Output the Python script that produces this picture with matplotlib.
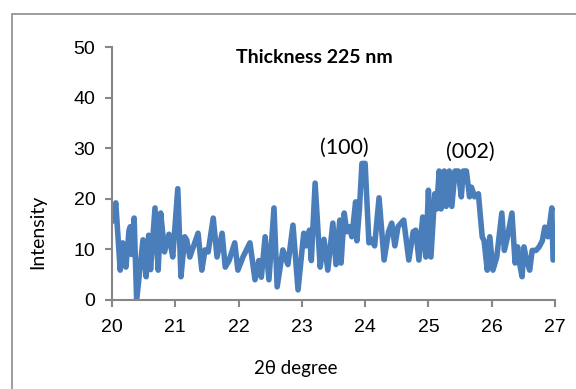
import matplotlib.pyplot as plt
from matplotlib.patches import Rectangle

# 2theta (deg) and intensity
two_theta = [20.00, 20.06, 20.13, 20.17, 20.22, 20.27, 20.29, 20.31, 20.35, 20.39,
             20.49, 20.54, 20.58, 20.61, 20.68, 20.73, 20.77, 20.83, 20.90, 20.96,
             21.04, 21.09, 21.15, 21.18, 21.23, 21.36, 21.42, 21.47, 21.52, 21.60,
             21.66, 21.74, 21.79, 21.85, 21.94, 21.99, 22.07, 22.18, 22.26, 22.32,
             22.36, 22.42, 22.48, 22.56, 22.61, 22.70, 22.78, 22.86, 22.94, 23.03,
             23.07, 23.12, 23.15, 23.21, 23.29, 23.35, 23.41, 23.49, 23.54, 23.60,
             23.62, 23.67, 23.71, 23.75, 23.79, 23.85, 23.87, 23.91, 23.95, 24.00,
             24.06, 24.10, 24.15, 24.22, 24.30, 24.37, 24.42, 24.47, 24.52, 24.61,
             24.69, 24.76, 24.80, 24.85, 24.91, 24.96, 25.00, 25.04, 25.10, 25.13,
             25.17, 25.20, 25.25, 25.28, 25.33, 25.37, 25.42, 25.47, 25.52, 25.55,
             25.60, 25.65, 25.68, 25.73, 25.79, 25.85, 25.88, 25.93, 25.97, 26.02,
             26.08, 26.16, 26.20, 26.25, 26.32, 26.37, 26.41, 26.44, 26.48, 26.51,
             26.55, 26.60, 26.64, 26.70, 26.75, 26.80, 26.84, 26.89, 26.95, 26.97]
intensity = [15.5, 19.2, 5.9, 11.3, 6.5, 13.8, 14.5, 9.0, 16.2, 0.0,
             11.9, 4.6, 12.8, 6.0, 18.2, 5.9, 17.2, 9.5, 13.0, 8.5,
             22.0, 4.6, 12.5, 11.9, 8.5, 13.2, 5.9, 9.9, 9.5, 16.2,
             8.5, 13.2, 6.5, 7.8, 11.3, 5.9, 8.5, 11.3, 4.0, 7.8,
             4.5, 12.5, 4.0, 18.2, 2.6, 9.9, 7.0, 14.8, 2.0, 13.2,
             10.7, 13.8, 7.8, 23.1, 6.5, 12.0, 5.9, 15.2, 7.0, 15.8,
             7.3, 17.2, 13.5, 14.5, 12.5, 19.4, 11.7, 18.0, 27.0, 27.0,
             11.3, 12.0, 10.7, 20.2, 7.9, 13.5, 15.2, 10.7, 14.5, 15.8,
             7.9, 13.5, 13.8, 7.9, 16.4, 8.5, 21.7, 8.5, 21.0, 18.0,
             25.5, 18.0, 25.5, 18.5, 25.5, 18.5, 25.5, 25.5, 20.4, 25.5,
             25.5, 20.4, 22.3, 20.4, 21.0, 12.5, 11.7, 5.9, 12.5, 5.9,
             8.5, 17.2, 9.8, 12.5, 17.2, 7.3, 10.5, 7.3, 4.6, 10.5,
             8.0, 5.9, 9.8, 9.8, 10.5, 11.7, 14.4, 12.5, 18.2, 7.9]
peak_labels = ['(100)', '(002)']
peak_pos = [23.67, 25.66]
peak_height = [30.0, 29.2]

fig = plt.figure(figsize=(5.76, 3.89), dpi=100)
ax = fig.add_axes([0.1944, 0.2288, 0.7691, 0.6502])

# chart area border like the spreadsheet export
fig.add_artist(Rectangle((12 / 576, -0.1), 1.2, 0.1 + (389 - 14) / 389,
                         transform=fig.transFigure, fill=False,
                         edgecolor='#8c8c8c', linewidth=1.2))

ax.plot(two_theta, intensity, color='#4A7EBB', linewidth=4.0,
        solid_joinstyle='round', solid_capstyle='round')

ax.set_xlim(20, 27)
ax.set_ylim(0, 50)
ax.set_xticks(range(20, 28))
ax.set_yticks(range(0, 51, 10))

for s in ['top', 'right']:
    ax.spines[s].set_visible(False)
for s in ['left', 'bottom']:
    ax.spines[s].set_color('#878787')
    ax.spines[s].set_linewidth(1.5)
ax.tick_params(axis='both', color='#878787', width=1.5, length=5,
               labelsize=14)
ax.tick_params(axis='x', pad=9)
ax.tick_params(axis='y', pad=7)
for lab in ax.get_xticklabels() + ax.get_yticklabels():
    lab.set_fontfamily('Liberation Sans')

ax.text(0.458, 0.96, 'Thickness 225 nm', transform=ax.transAxes,
        fontsize=14, fontweight='bold', family='Lato',
        ha='center', va='center')
ax.text(0.415, -0.27, '2θ degree', transform=ax.transAxes,
        fontsize=13.5, family='Lato', ha='center', va='center')
ax.text(-0.167, 0.27, 'Intensity', transform=ax.transAxes, rotation=90,
        fontsize=14, family='Lato', ha='center', va='center')

for lab, xp, yp in zip(peak_labels, peak_pos, peak_height):
    ax.text(xp, yp, lab, fontsize=15.5, family='Lato', ha='center', va='center')

fig.savefig('out.png', dpi=100)
